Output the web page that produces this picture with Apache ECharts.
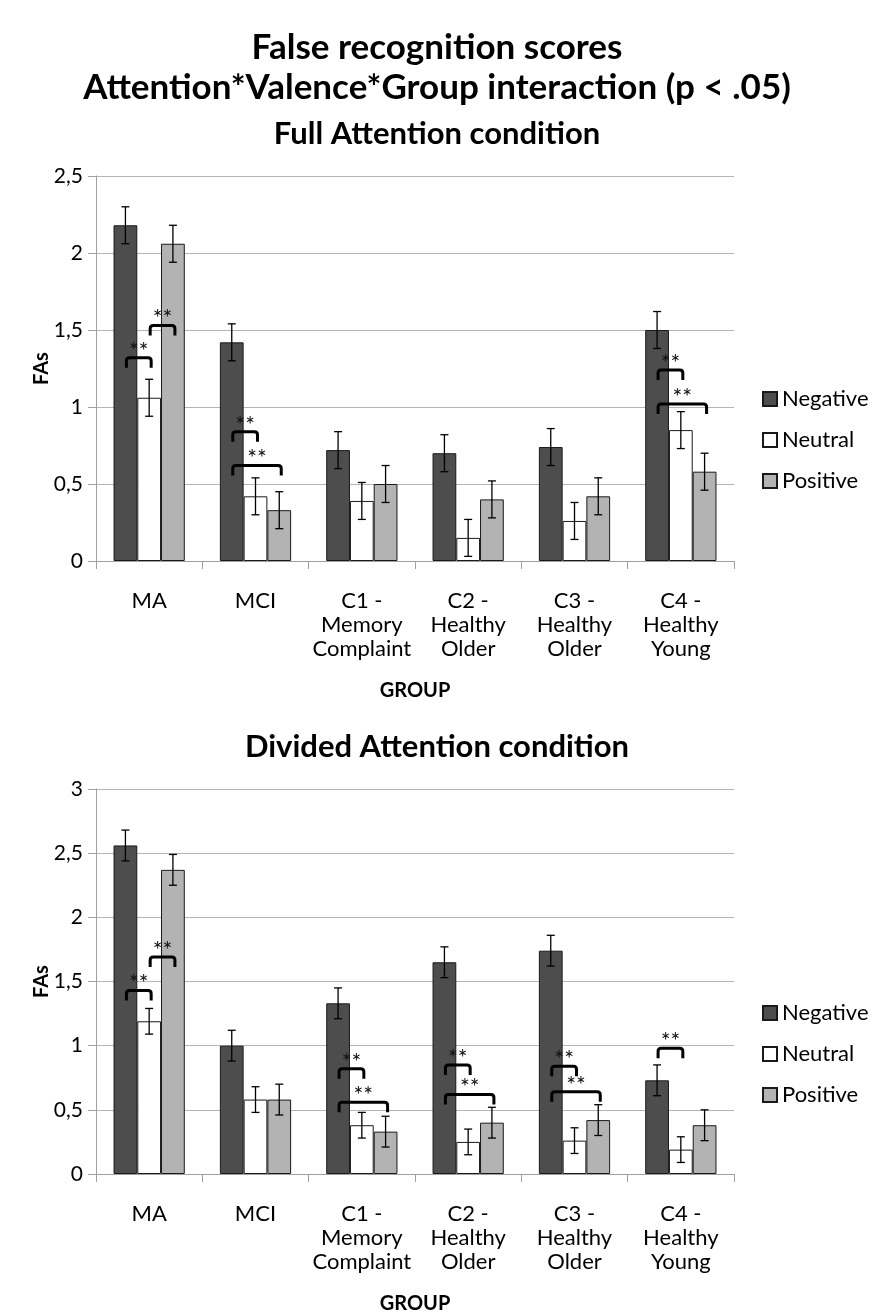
<!DOCTYPE html>
<html>
<head>
<meta charset="utf-8">
<script src="https://cdn.jsdelivr.net/npm/echarts@6/dist/echarts.min.js"></script>
<style>
html,body{margin:0;padding:0;background:#fff;}
#chart{width:874px;height:1312px;}
</style>
</head>
<body>
<div id="chart"></div>
<script>
// ---- data ----
var categories = ['MA', 'MCI', 'C1 -\nMemory\nComplaint', 'C2 -\nHealthy\nOlder', 'C3 -\nHealthy\nOlder', 'C4 -\nHealthy\nYoung'];
var seriesNames = ['Negative', 'Neutral', 'Positive'];

// Full Attention condition
var fullNegative = [2.18, 1.42, 0.72, 0.70, 0.74, 1.50];
var fullNeutral  = [1.06, 0.42, 0.39, 0.15, 0.26, 0.85];
var fullPositive = [2.06, 0.33, 0.50, 0.40, 0.42, 0.58];
var fullNegativeErr = [0.12, 0.12, 0.12, 0.12, 0.12, 0.12];
var fullNeutralErr  = [0.12, 0.12, 0.12, 0.12, 0.12, 0.12];
var fullPositiveErr = [0.12, 0.12, 0.12, 0.12, 0.12, 0.12];
// significance brackets: [category index, from series, to series, level]
var fullBrackets = [[0, 0, 1, 1.32], [0, 1, 2, 1.53], [1, 0, 1, 0.84], [1, 0, 2, 0.62], [5, 0, 1, 1.24], [5, 0, 2, 1.02]];
var fullTicks = [0, 0.5, 1, 1.5, 2, 2.5];

// Divided Attention condition
var divNegative = [2.56, 1.00, 1.33, 1.65, 1.74, 0.73];
var divNeutral  = [1.19, 0.58, 0.38, 0.25, 0.26, 0.19];
var divPositive = [2.37, 0.58, 0.33, 0.40, 0.42, 0.38];
var divNegativeErr = [0.12, 0.12, 0.12, 0.12, 0.12, 0.12];
var divNeutralErr  = [0.10, 0.10, 0.10, 0.10, 0.10, 0.10];
var divPositiveErr = [0.12, 0.12, 0.12, 0.12, 0.12, 0.12];
var divBrackets = [[0, 0, 1, 1.43], [0, 1, 2, 1.69], [2, 0, 1, 0.82], [2, 0, 2, 0.56], [3, 0, 1, 0.85], [3, 0, 2, 0.62], [4, 0, 1, 0.84], [4, 0, 2, 0.64], [5, 0, 1, 0.98]];
var divTicks = [0, 0.5, 1, 1.5, 2, 2.5, 3];

// ---- styling ----
var FONT = 'Lato';
var GAP = 0.33;
var colors = ['#4d4d4d', '#ffffff', '#b3b3b3'];

function errData(vals, errs) {
  var out = [];
  for (var s = 0; s < 3; s++) {
    for (var i = 0; i < vals[s].length; i++) out.push([i, s, vals[s][i], errs[s][i]]);
  }
  return out;
}

function errRender(params, api) {
  var cat = api.value(0), s = api.value(1), v = api.value(2), e = api.value(3);
  var bw = api.size([1, 0])[0] * (1 - GAP) / 3;
  var top = api.coord([cat, v + e]);
  var bot = api.coord([cat, v - e]);
  var x = top[0] + (s - 1) * bw;
  var cap = 4;
  var st = {stroke: '#000', lineWidth: 1.3};
  return {type: 'group', children: [
    {type: 'line', shape: {x1: x, y1: top[1], x2: x, y2: bot[1]}, style: st},
    {type: 'line', shape: {x1: x - cap, y1: top[1], x2: x + cap, y2: top[1]}, style: st},
    {type: 'line', shape: {x1: x - cap, y1: bot[1], x2: x + cap, y2: bot[1]}, style: st}
  ]};
}

function bracketRender(params, api) {
  var cat = api.value(0), a = api.value(1), b = api.value(2), y = api.value(3);
  var base = api.coord([cat, y]);
  var bw = api.size([1, 0])[0] * (1 - GAP) / 3;
  var x1 = base[0] + (a - 1) * bw + 1;
  var x2 = base[0] + (b - 1) * bw + 2;
  var yy = base[1];
  var leg = 10, r = 3;
  var path = 'M' + x1 + ' ' + (yy + leg) + ' L' + x1 + ' ' + (yy + r) +
    ' Q' + x1 + ' ' + yy + ' ' + (x1 + r) + ' ' + yy +
    ' L' + (x2 - r) + ' ' + yy +
    ' Q' + x2 + ' ' + yy + ' ' + x2 + ' ' + (yy + r) +
    ' L' + x2 + ' ' + (yy + leg);
  return {type: 'group', children: [
    {type: 'path', shape: {pathData: path}, style: {stroke: '#000', lineWidth: 3, fill: null}},
    {type: 'text', x: (x1 + x2) / 2, y: yy + 5, style: {text: '**', fill: '#111', font: '23px ' + FONT, align: 'center', verticalAlign: 'bottom'}}
  ]};
}

function fmt(v) { return String(v).replace('.', ','); }

function makeXAxis(gi) {
  return {
    type: 'category', gridIndex: gi, data: categories,
    name: 'GROUP', nameLocation: 'middle', nameGap: 120,
    nameTextStyle: {fontFamily: FONT, fontWeight: 'bold', fontSize: 20, color: '#000'},
    axisLine: {show: true, lineStyle: {color: '#a0a0a0', width: 1}},
    axisTick: {show: true, length: 8, lineStyle: {color: '#a0a0a0'}},
    axisLabel: {fontFamily: FONT, fontSize: 22, color: '#000', lineHeight: 24, margin: 28, interval: 0},
    splitLine: {show: false}
  };
}
function makeYAxis(gi, ticks) {
  return {
    type: 'value', gridIndex: gi, min: ticks[0], max: ticks[ticks.length - 1], interval: 0.5,
    name: 'FAs', nameLocation: 'middle', nameGap: 44, nameRotate: 90, nameMoveOverlap: false,
    nameTextStyle: {fontFamily: FONT, fontWeight: 'bold', fontSize: 20, color: '#000'},
    axisLine: {show: true, lineStyle: {color: '#a0a0a0', width: 1}},
    axisTick: {show: true, length: 8, lineStyle: {color: '#a0a0a0'}},
    axisLabel: {fontFamily: FONT, fontSize: 21, color: '#000', margin: 13, formatter: fmt},
    splitLine: {show: true, lineStyle: {color: '#b5b5b5', width: 1}}
  };
}

function barSeries(gi, vals) {
  return vals.map(function (arr, s) {
    return {
      name: seriesNames[s], type: 'bar', xAxisIndex: gi, yAxisIndex: gi,
      data: arr, barGap: '0%', barCategoryGap: (GAP * 100) + '%',
      itemStyle: {color: colors[s], borderColor: '#1a1a1a', borderWidth: 1},
      emphasis: {disabled: true}, z: 2
    };
  });
}

var fullVals = [fullNegative, fullNeutral, fullPositive];
var fullErrs = [fullNegativeErr, fullNeutralErr, fullPositiveErr];
var divVals = [divNegative, divNeutral, divPositive];
var divErrs = [divNegativeErr, divNeutralErr, divPositiveErr];

var legendBase = {
  orient: 'vertical', left: 757, itemWidth: 14, itemHeight: 14, itemGap: 19, itemTextGap: 6,
  icon: 'rect', selectedMode: false,
  textStyle: {fontFamily: FONT, fontSize: 22, color: '#000', lineHeight: 22},
  data: seriesNames
};

var titleStyle = {fontFamily: FONT, fontWeight: 'bold', color: '#000'};
var option = {
  animation: false,
  backgroundColor: '#fff',
  title: [
    {text: 'False recognition scores', left: 'center', top: 28, padding: 0,
     textStyle: Object.assign({fontSize: 35, lineHeight: 40}, titleStyle)},
    {text: 'Attention*Valence*Group interaction (p < .05)', left: 'center', top: 68, padding: 0,
     textStyle: Object.assign({fontSize: 35, lineHeight: 40}, titleStyle)},
    {text: 'Full Attention condition', left: 'center', top: 117, padding: 0,
     textStyle: Object.assign({fontSize: 31, lineHeight: 34}, titleStyle)},
    {text: 'Divided Attention condition', left: 'center', top: 730, padding: 0,
     textStyle: Object.assign({fontSize: 31, lineHeight: 34}, titleStyle)}
  ],
  legend: [
    Object.assign({top: 383}, legendBase),
    Object.assign({top: 997}, legendBase)
  ],
  grid: [
    {left: 96, right: 140, top: 176, height: 385, outerBoundsMode: 'none', containLabel: false},
    {left: 96, right: 140, top: 789, height: 385, outerBoundsMode: 'none', containLabel: false}
  ],
  xAxis: [makeXAxis(0), makeXAxis(1)],
  yAxis: [makeYAxis(0, fullTicks), makeYAxis(1, divTicks)],
  series: [].concat(
    barSeries(0, fullVals),
    barSeries(1, divVals),
    [
      {type: 'custom', xAxisIndex: 0, yAxisIndex: 0, renderItem: errRender, data: errData(fullVals, fullErrs), z: 5, silent: true, encode: {x: 0, y: 2}},
      {type: 'custom', xAxisIndex: 1, yAxisIndex: 1, renderItem: errRender, data: errData(divVals, divErrs), z: 5, silent: true, encode: {x: 0, y: 2}},
      {type: 'custom', xAxisIndex: 0, yAxisIndex: 0, renderItem: bracketRender, data: fullBrackets, z: 6, silent: true, encode: {x: 0, y: 3}},
      {type: 'custom', xAxisIndex: 1, yAxisIndex: 1, renderItem: bracketRender, data: divBrackets, z: 6, silent: true, encode: {x: 0, y: 3}}
    ]
  )
};

var chart = echarts.init(document.getElementById('chart'), null, {renderer: 'canvas'});
chart.setOption(option);
</script>
</body>
</html>
